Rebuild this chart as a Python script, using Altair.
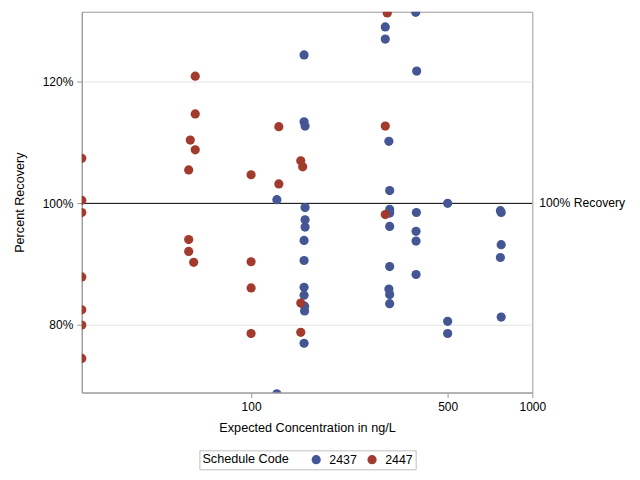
import altair as alt
import pandas as pd

# Schedule 2437 (blue)
x_2437 = [123.5, 123.5,
          154.3, 154.3, 155.6, 155.6, 155.6, 155.6, 154.3, 154.3, 154.3, 154.3, 155, 155, 154.3,
          300, 300, 309, 311, 311, 311, 311, 311, 309, 311, 311,
          385, 388, 387, 386, 386, 386,
          500, 500, 500,
          770, 775, 775, 770, 775]
y_2437 = [100.6, 68.7,
          124.4, 113.4, 112.7, 99.3, 97.3, 96.1, 93.9, 90.6, 86.2, 84.9, 83.1, 82.3, 77.0,
          129.0, 127.0, 110.2, 102.1, 99.0, 98.4, 96.2, 89.6, 85.9, 85.0, 83.5,
          131.4, 121.75, 98.5, 95.4, 93.8, 88.3,
          100.0, 80.6, 78.6,
          98.8, 98.5, 93.2, 91.1, 81.3]

# Schedule 2447 (red)
x_2447 = [25, 25, 25, 25, 25, 25, 25,
          63.3, 63.3, 60.8, 63.3, 60, 60, 60, 62.5,
          100, 100, 100, 100,
          125.5, 125.5,
          150.2, 152.6, 150.2, 150.2,
          305, 300, 300]
y_2447 = [107.4, 100.5, 98.5, 87.9, 82.5, 80.0, 74.5,
          120.9, 114.7, 110.4, 108.8, 105.5, 94.05, 92.1, 90.3,
          104.7, 90.4, 86.1, 78.6,
          112.6, 103.2,
          107.0, 106.0, 83.6, 78.8,
          131.3, 112.7, 98.15]

codes = ["2437", "2447"]
colors = ["#445694", "#A23A2E"]

ref_value = [100]
ref_label = ["100% Recovery"]

df = pd.DataFrame({
    "conc": x_2437 + x_2447,
    "rec": y_2437 + y_2447,
    "code": [codes[0]] * len(x_2437) + [codes[1]] * len(x_2447),
})
ref = pd.DataFrame({"v": ref_value, "label": ref_label})

FONT = "Liberation Sans"

points = alt.Chart(df).mark_circle(size=85, opacity=1, clip=True).encode(
    x=alt.X("conc:Q",
            scale=alt.Scale(type="log", domain=[25, 1000], nice=False),
            axis=alt.Axis(values=[100, 500, 1000], format="d", grid=False,
                          labelFlush=False,
                          title="Expected Concentration in ng/L")),
    y=alt.Y("rec:Q",
            scale=alt.Scale(domain=[68.9, 131.5], nice=False, zero=False),
            axis=alt.Axis(values=[80, 100, 120], labelExpr="datum.value + '%'",
                          grid=True, labelFlush=False, title="Percent Recovery")),
    color=alt.Color("code:N",
                    scale=alt.Scale(domain=codes, range=colors),
                    legend=alt.Legend(title="Schedule Code", orient="none",
                                      legendX=118, legendY=440,
                                      direction="horizontal", titleOrient="left")),
)

rule = alt.Chart(ref).mark_rule(color="black", strokeWidth=1).encode(
    y=alt.Y("v:Q")
)

label = alt.Chart(ref).mark_text(align="left", baseline="middle", font=FONT,
                                 fontSize=12.2, color="black").encode(
    y=alt.Y("v:Q"),
    x=alt.value(459),
    text="label:N",
)

chart = alt.layer(rule, points, label).properties(
    width=452, height=382,
    padding={"left": 74, "top": 3, "right": 100, "bottom": 85},
    autosize=alt.AutoSizeParams(type="none"),
).configure_view(
    stroke="#9a9a9a", strokeWidth=1
).configure_axis(
    labelFont=FONT, titleFont=FONT, labelFontSize=12, titleFontSize=12.7,
    titleFontWeight="normal", labelColor="black", titleColor="black",
    domainColor="#9a9a9a", tickColor="#9a9a9a", tickSize=5,
    gridColor="#e3e3e3", labelPadding=4,
).configure_axisY(
    titlePadding=16,
).configure_axisX(
    titlePadding=9,
).configure_legend(
    labelFont=FONT, titleFont=FONT, labelFontSize=12.4, titleFontSize=12.7,
    titleFontWeight="normal", labelColor="black", titleColor="black",
    strokeColor="#c0c0c0", padding=3, symbolSize=85, symbolType="circle",
    symbolStrokeWidth=0, titlePadding=21, columnPadding=9, labelOffset=7,
)

chart.save("out.html", embed_options={"renderer": "svg", "actions": False})
